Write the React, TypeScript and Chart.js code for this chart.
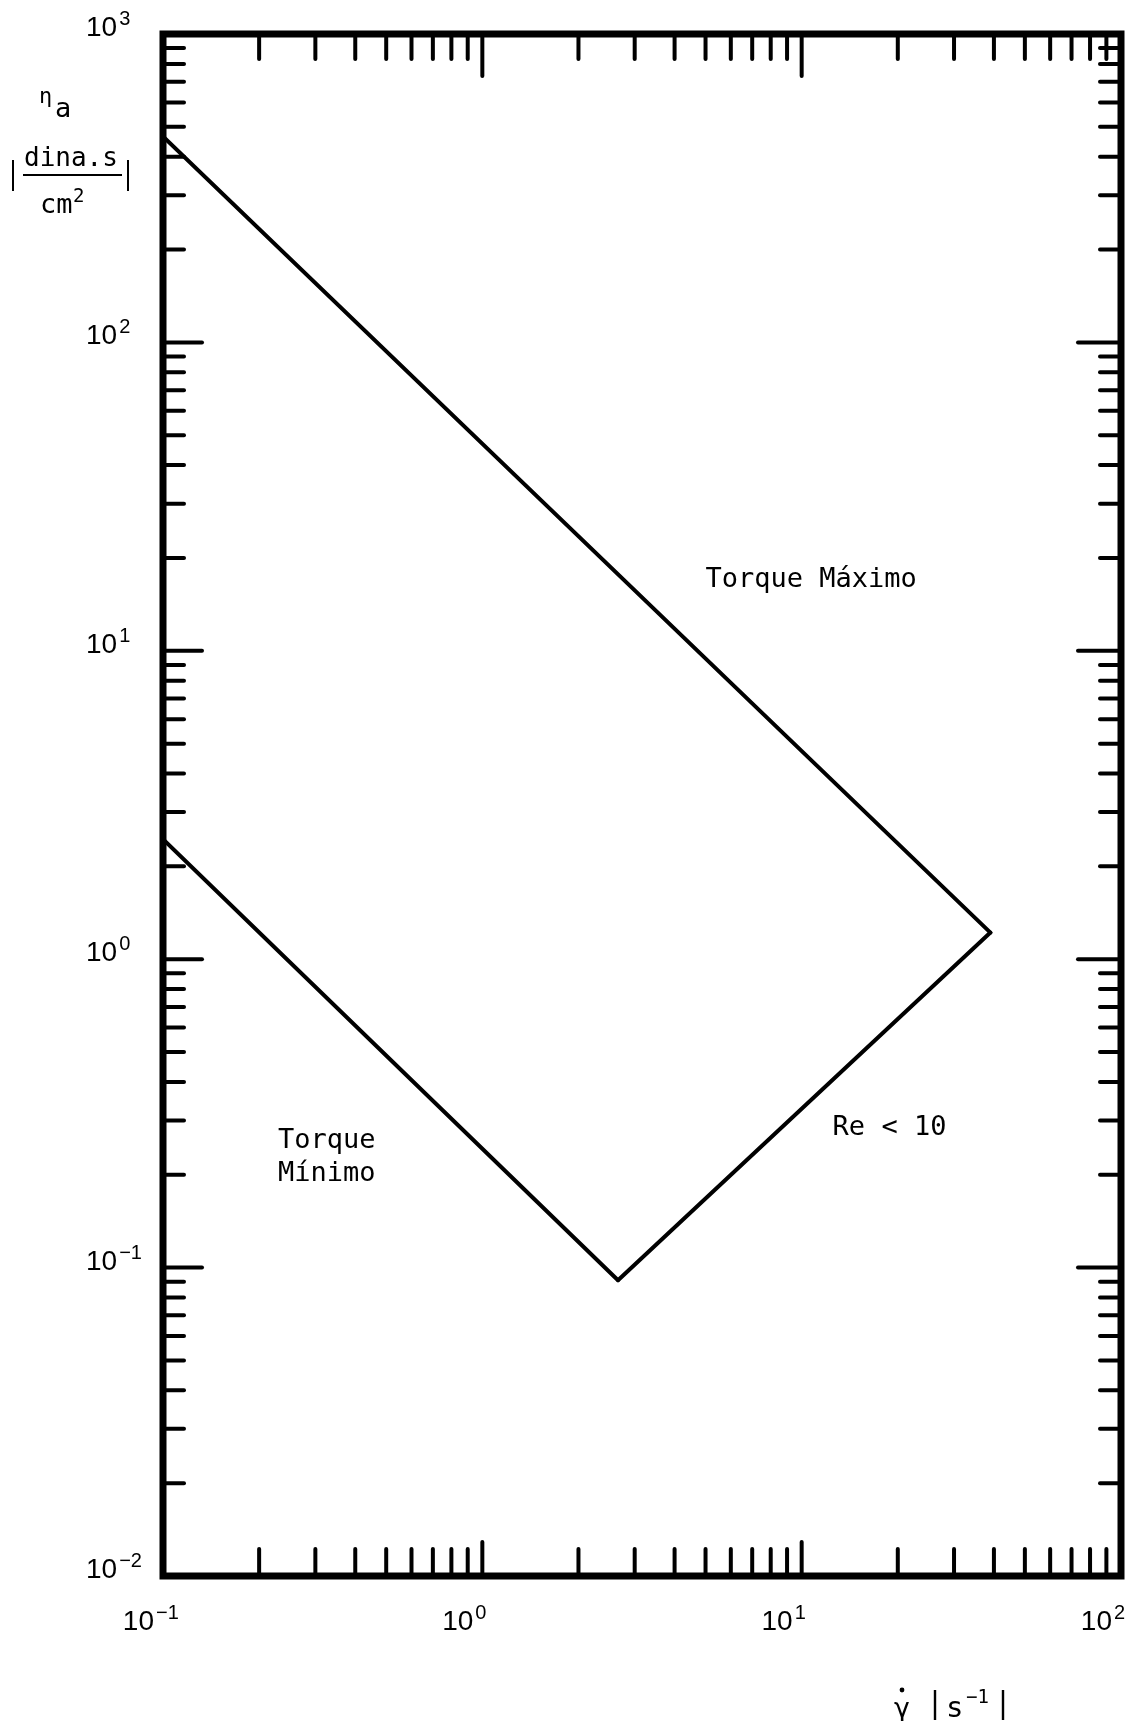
import React, { useEffect, useRef } from "react";
import { Chart, registerables } from "chart.js";

Chart.register(...registerables);

// Shear rate (1/s) and apparent viscosity (dina.s/cm²) for each boundary line
const maxTorqueRate = [0.1, 39];
const maxTorqueVisc = [465, 1.22];
const minTorqueRate = [0.1, 2.66];
const minTorqueVisc = [2.45, 0.091];
const reynoldsRate = [2.66, 39];
const reynoldsVisc = [0.091, 1.22];

// Decades shown on each log axis and the minor multipliers inside a decade
const rateExponents = [-1, 0, 1, 2];
const viscExponents = [-2, -1, 0, 1, 2, 3];
const minorSteps = [2, 3, 4, 5, 6, 7, 8, 9];

// Region labels placed in data coordinates
const regionLabels = [
  { lines: ["Torque Máximo"], x: 5.0, y: 16.1 },
  { lines: ["Torque", "Mínimo"], x: 0.229, y: 0.244 },
  { lines: ["Re < 10"], x: 12.5, y: 0.269 },
];

const AXIS_FONT = '"Liberation Sans", "DejaVu Sans", sans-serif';
const TYPE_FONT = '"DejaVu Sans Mono", "Liberation Mono", monospace';

const toPoints = (xs: number[], ys: number[]) => xs.map((x, i) => ({ x, y: ys[i] }));

function tickValues(exponents: number[]) {
  const out: { value: number; major: boolean }[] = [];
  exponents.forEach((e, i) => {
    out.push({ value: Math.pow(10, e), major: true });
    if (i < exponents.length - 1) {
      minorSteps.forEach((m) => out.push({ value: m * Math.pow(10, e), major: false }));
    }
  });
  return out;
}

function powerLabel(
  ctx: CanvasRenderingContext2D,
  exp: number,
  x: number,
  y: number,
  anchor: "left" | "right"
) {
  ctx.font = `28px ${AXIS_FONT}`;
  const base = "10";
  const w = ctx.measureText(base).width;
  const x0 = anchor === "left" ? x : x - w;
  ctx.textAlign = "left";
  ctx.textBaseline = "alphabetic";
  ctx.fillText(base, x0, y);
  ctx.font = `20px ${AXIS_FONT}`;
  const expText = exp < 0 ? "\u2212" + Math.abs(exp) : String(exp);
  ctx.fillText(expText, x0 + w + 2, y - 11);
}

const framePlugin = {
  id: "logFrame",
  afterDatasetsDraw(chart: any) {
    const { ctx, chartArea: a, scales } = chart;
    const xs = scales.x;
    const ys = scales.y;
    const seg = (x1: number, y1: number, x2: number, y2: number) => {
      ctx.beginPath();
      ctx.moveTo(x1, y1);
      ctx.lineTo(x2, y2);
      ctx.stroke();
    };
    ctx.save();
    ctx.strokeStyle = "#000";
    ctx.fillStyle = "#000";
    ctx.lineCap = "round";
    ctx.lineWidth = 4;

    // inward tick marks on all four sides
    for (const t of tickValues(rateExponents)) {
      const px = xs.getPixelForValue(t.value);
      if (px <= a.left + 1 || px >= a.right - 1) continue;
      seg(px, a.bottom, px, a.bottom - (t.major ? 34 : 27));
      seg(px, a.top, px, a.top + (t.major ? 42 : 25));
    }
    for (const t of tickValues(viscExponents)) {
      const py = ys.getPixelForValue(t.value);
      if (py <= a.top + 1 || py >= a.bottom - 1) continue;
      seg(a.left, py, a.left + (t.major ? 39 : 21), py);
      seg(a.right, py, a.right - (t.major ? 43 : 21), py);
    }

    // plot frame
    ctx.lineWidth = 7;
    ctx.lineJoin = "miter";
    ctx.lineCap = "butt";
    ctx.strokeRect(a.left, a.top, a.right - a.left, a.bottom - a.top);

    // decade labels
    for (const e of viscExponents) {
      const py = ys.getPixelForValue(Math.pow(10, e));
      powerLabel(ctx, e, 86, py + 2, "left");
    }
    for (const e of rateExponents) {
      const px = xs.getPixelForValue(Math.pow(10, e));
      powerLabel(ctx, e, px - 9, 1630, "right");
    }

    // region labels
    ctx.font = `27px ${TYPE_FONT}`;
    ctx.textAlign = "left";
    ctx.textBaseline = "alphabetic";
    for (const lab of regionLabels) {
      const px = xs.getPixelForValue(lab.x);
      const py = ys.getPixelForValue(lab.y);
      lab.lines.forEach((line, i) => ctx.fillText(line, px, py + i * 33));
    }

    // y-axis title: eta_a |dina.s / cm²|
    ctx.font = `22px ${TYPE_FONT}`;
    ctx.fillText("η", 39, 103);
    ctx.font = `27px ${TYPE_FONT}`;
    ctx.fillText("a", 55, 117);
    ctx.font = `26px ${TYPE_FONT}`;
    ctx.fillText("dina.s", 24, 166);
    ctx.lineWidth = 2;
    seg(23, 175, 122, 175);
    ctx.font = `27px ${TYPE_FONT}`;
    ctx.fillText("cm", 40, 213);
    ctx.font = `19px ${TYPE_FONT}`;
    ctx.fillText("2", 73, 202);
    seg(13, 160, 13, 191);
    seg(128, 160, 128, 191);

    // x-axis title: gamma-dot |s^-1|
    ctx.font = `27px ${TYPE_FONT}`;
    ctx.fillText("γ", 894, 1717);
    ctx.beginPath();
    ctx.arc(902, 1690, 2.4, 0, Math.PI * 2);
    ctx.fill();
    ctx.font = `29px ${TYPE_FONT}`;
    ctx.fillText("s", 946, 1717);
    ctx.font = `19px ${TYPE_FONT}`;
    ctx.fillText("\u22121", 966, 1703);
    ctx.lineWidth = 2.4;
    seg(935, 1690, 935, 1720);
    seg(1003, 1690, 1003, 1720);

    ctx.restore();
  },
};

export default function App() {
  const canvasRef = useRef<HTMLCanvasElement | null>(null);

  useEffect(() => {
    const canvas = canvasRef.current;
    if (!canvas) return;
    const lineStyle = {
      showLine: true,
      borderColor: "#000",
      borderWidth: 4,
      borderCapStyle: "round" as const,
      borderJoinStyle: "round" as const,
      pointRadius: 0,
      fill: false,
    };
    const chart = new Chart(canvas, {
      type: "scatter",
      data: {
        datasets: [
          { label: "Torque Máximo", data: toPoints(maxTorqueRate, maxTorqueVisc), ...lineStyle },
          { label: "Torque Mínimo", data: toPoints(minTorqueRate, minTorqueVisc), ...lineStyle },
          { label: "Re < 10", data: toPoints(reynoldsRate, reynoldsVisc), ...lineStyle },
        ],
      },
      options: {
        responsive: false,
        animation: false,
        layout: { padding: { left: 163, right: 8, top: 34, bottom: 145 } },
        plugins: { legend: { display: false }, tooltip: { enabled: false } },
        scales: {
          x: { type: "logarithmic", min: 0.1, max: 100, display: false },
          y: { type: "logarithmic", min: 0.01, max: 1000, display: false },
        },
      },
      plugins: [framePlugin],
    });
    return () => chart.destroy();
  }, []);

  return (
    <div style={{ position: "absolute", left: 0, top: 0, width: 1129, height: 1721, background: "#fff" }}>
      <canvas ref={canvasRef} width={1129} height={1721} />
    </div>
  );
}
